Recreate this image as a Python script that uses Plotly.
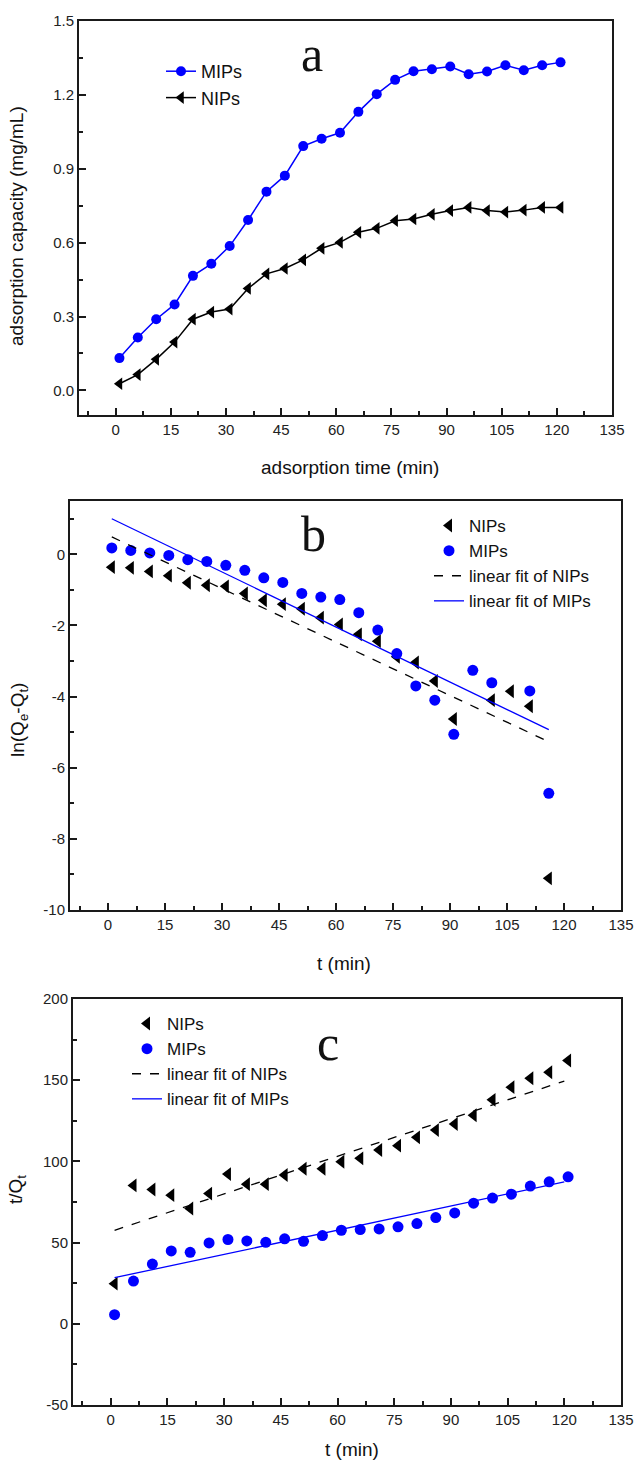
import plotly.graph_objects as go

W, H = 636, 1461
BLUE = "#0000ff"
INK = "#1a1a1a"
SANS = "Arial, Liberation Sans, sans-serif"
SERIF = "Times New Roman, Liberation Serif, serif"

# panel a: adsorption capacity vs time
t_a = [1, 6, 11, 16, 21, 26, 31, 36, 41, 46, 51, 56, 61,
       66, 71, 76, 81, 86, 91, 96, 101, 106, 111, 116, 121]
mips_a = [0.131, 0.215, 0.289, 0.349, 0.465, 0.514, 0.586, 0.692, 0.807,
          0.872, 0.992, 1.022, 1.046, 1.131, 1.203, 1.261, 1.296, 1.304,
          1.315, 1.284, 1.295, 1.320, 1.300, 1.320, 1.332]
nips_a = [0.027, 0.064, 0.126, 0.196, 0.289, 0.318, 0.330, 0.414, 0.473,
          0.495, 0.530, 0.577, 0.601, 0.642, 0.658, 0.689, 0.696, 0.715,
          0.730, 0.743, 0.730, 0.724, 0.732, 0.743, 0.743]

# panel b: pseudo-first-order plot
t_b_nips = [1, 6, 11, 16, 21, 26, 31, 36, 41, 46, 51, 56, 61,
            66, 71, 76, 81, 86, 91, 101, 106, 111, 116]
ln_nips = [-0.36, -0.38, -0.48, -0.60, -0.80, -0.87, -0.90, -1.10, -1.29,
           -1.40, -1.53, -1.78, -1.97, -2.25, -2.44, -2.88, -3.04, -3.56,
           -4.63, -4.10, -3.85, -4.27, -9.11]
t_b_mips = [1, 6, 11, 16, 21, 26, 31, 36, 41, 46, 51, 56, 61,
            66, 71, 76, 81, 86, 91, 96, 101, 111, 116]
ln_mips = [0.18, 0.11, 0.04, -0.03, -0.15, -0.20, -0.31, -0.45, -0.66,
           -0.79, -1.10, -1.20, -1.27, -1.64, -2.13, -2.79, -3.70, -4.10,
           -5.06, -3.26, -3.61, -3.84, -6.72]
fit_b_t = [1, 116]
fit_b_nips = [0.49, -5.27]
fit_b_mips = [1.00, -4.93]

# panel c: pseudo-second-order plot
t_c = [1, 6, 11, 16, 21, 26, 31, 36, 41, 46, 51, 56, 61,
       66, 71, 76, 81, 86, 91, 96, 101, 106, 111, 116, 121]
tq_nips = [24.7, 85.2, 82.7, 79.2, 71.0, 80.2, 92.2, 86.0, 86.0, 91.6,
           95.5, 95.5, 99.8, 101.9, 107.0, 109.7, 114.8, 119.3, 123.0,
           128.4, 137.9, 145.7, 151.2, 154.9, 162.1]
tq_mips = [5.6, 26.3, 36.8, 44.9, 44.0, 49.8, 51.9, 51.0, 50.2, 52.3,
           50.8, 54.3, 57.6, 58.0, 58.4, 59.7, 61.7, 65.4, 68.3, 74.3,
           77.4, 79.8, 84.8, 87.4, 90.5]
fit_c_t = [1, 120]
fit_c_nips = [57.6, 149.5]
fit_c_mips = [28.4, 87.4]

# tick labels (plain hyphen minus, as in the original)
yticks_b = [-10, -8, -6, -4, -2, 0]
yticks_c = [-50, 0, 50, 100, 150, 200]


def px_x(p):
    return p / W


def px_y(p):
    return 1 - p / H


def axis(domain, rng, dtick, minor, anchor, tickvals=None, fmt=None):
    ax = dict(
        domain=domain, range=rng, anchor=anchor, dtick=dtick, tick0=0,
        showline=True, linecolor=INK, linewidth=2, mirror=True,
        ticks="inside", ticklen=7, tickwidth=1.5, tickcolor=INK,
        minor=dict(ticks="inside", tickmode="linear", tick0=0, dtick=minor,
                   ticklen=4, tickwidth=1.5, tickcolor=INK),
        showgrid=False, zeroline=False, automargin=False,
        tickfont=dict(family=SANS, size=15, color="#222"),
    )
    if tickvals is not None:
        ax.update(tickmode="array", tickvals=tickvals, ticktext=[str(v) for v in tickvals])
    if fmt:
        ax["tickformat"] = fmt
    return ax


fig = go.Figure()

# a
fig.add_trace(go.Scatter(
    x=t_a, y=mips_a, mode="lines+markers", name="MIPs",
    line=dict(color=BLUE, width=1.5), marker=dict(color=BLUE, size=10, symbol="circle"),
    xaxis="x", yaxis="y", legend="legend",
))
fig.add_trace(go.Scatter(
    x=t_a, y=nips_a, mode="lines+markers", name="NIPs",
    line=dict(color="black", width=1.5), marker=dict(color="black", size=11, symbol="triangle-left"),
    xaxis="x", yaxis="y", legend="legend",
))

# b
fig.add_trace(go.Scatter(
    x=t_b_nips, y=ln_nips, mode="markers", name="NIPs",
    marker=dict(color="black", size=12, symbol="triangle-left"),
    xaxis="x2", yaxis="y2", legend="legend2",
))
fig.add_trace(go.Scatter(
    x=t_b_mips, y=ln_mips, mode="markers", name="MIPs",
    marker=dict(color=BLUE, size=11, symbol="circle"),
    xaxis="x2", yaxis="y2", legend="legend2",
))
fig.add_trace(go.Scatter(
    x=fit_b_t, y=fit_b_nips, mode="lines", name="linear fit of NIPs",
    line=dict(color="black", width=1.3, dash="dash"),
    xaxis="x2", yaxis="y2", legend="legend2",
))
fig.add_trace(go.Scatter(
    x=fit_b_t, y=fit_b_mips, mode="lines", name="linear fit of MIPs",
    line=dict(color=BLUE, width=1.3),
    xaxis="x2", yaxis="y2", legend="legend2",
))

# c
fig.add_trace(go.Scatter(
    x=t_c, y=tq_nips, mode="markers", name="NIPs",
    marker=dict(color="black", size=12, symbol="triangle-left"),
    xaxis="x3", yaxis="y3", legend="legend3",
))
fig.add_trace(go.Scatter(
    x=t_c, y=tq_mips, mode="markers", name="MIPs",
    marker=dict(color=BLUE, size=11, symbol="circle"),
    xaxis="x3", yaxis="y3", legend="legend3",
))
fig.add_trace(go.Scatter(
    x=fit_c_t, y=fit_c_nips, mode="lines", name="linear fit of NIPs",
    line=dict(color="black", width=1.3, dash="dash"),
    xaxis="x3", yaxis="y3", legend="legend3",
))
fig.add_trace(go.Scatter(
    x=fit_c_t, y=fit_c_mips, mode="lines", name="linear fit of MIPs",
    line=dict(color=BLUE, width=1.3),
    xaxis="x3", yaxis="y3", legend="legend3",
))

fig.update_layout(
    width=W, height=H,
    margin=dict(l=0, r=0, t=0, b=0),
    paper_bgcolor="white", plot_bgcolor="white",
    font=dict(family=SANS, color="#111"),
    xaxis=axis([px_x(79), px_x(612)], [-10, 135], 15, 7.5, "y"),
    yaxis=axis([px_y(415), px_y(21)], [-0.1, 1.5], 0.3, 0.15, "x", fmt=".1f"),
    xaxis2=axis([px_x(70), px_x(621)], [-10, 135], 15, 7.5, "y2"),
    yaxis2=axis([px_y(910), px_y(501)], [-10, 1.5], 2, 1, "x2", tickvals=yticks_b),
    xaxis3=axis([px_x(73), px_x(621)], [-10, 135], 15, 7.5, "y3"),
    yaxis3=axis([px_y(1405), px_y(999)], [-50, 200], 50, 25, "x3", tickvals=yticks_c),
    legend=dict(x=px_x(161), y=px_y(53), xanchor="left", yanchor="top",
                bgcolor="rgba(0,0,0,0)", font=dict(family=SANS, size=18, color="#111"),
                tracegroupgap=0),
    legend2=dict(x=px_x(429), y=px_y(508), xanchor="left", yanchor="top",
                 bgcolor="rgba(0,0,0,0)", font=dict(family=SANS, size=17, color="#111"),
                 tracegroupgap=0),
    legend3=dict(x=px_x(127), y=px_y(1006), xanchor="left", yanchor="top",
                 bgcolor="rgba(0,0,0,0)", font=dict(family=SANS, size=17, color="#111"),
                 tracegroupgap=0),
    showlegend=True,
)

# panel letters
for txt, x, y in [("a", 312, 54), ("b", 313, 534), ("c", 328, 1043)]:
    fig.add_annotation(text=txt, x=px_x(x), y=px_y(y), xref="paper", yref="paper",
                       xanchor="center", yanchor="middle", showarrow=False,
                       font=dict(family=SERIF, size=50, color="#111"))

# axis titles
title_font = dict(family=SANS, size=19, color="#111")
for txt, x, y in [("adsorption time (min)", 350, 467), ("t (min)", 344, 963), ("t (min)", 352, 1449)]:
    fig.add_annotation(text=txt, x=px_x(x), y=px_y(y), xref="paper", yref="paper",
                       xanchor="center", yanchor="middle", showarrow=False, font=title_font)
for txt, x, y in [("adsorption capacity (mg/mL)", 16, 226),
                  ("ln(Q<sub>e</sub>-Q<sub>t</sub>)", 19, 720),
                  ("t/Q<sub>t</sub>", 17, 1190)]:
    fig.add_annotation(text=txt, x=px_x(x), y=px_y(y), xref="paper", yref="paper",
                       xanchor="center", yanchor="middle", showarrow=False,
                       textangle=-90, font=title_font)

# the default page adds an 8px body margin; drop it so the figure sits at 0,0
fig.write_html("out.html", config={"displayModeBar": False},
               post_script="document.body.style.margin='0';")
